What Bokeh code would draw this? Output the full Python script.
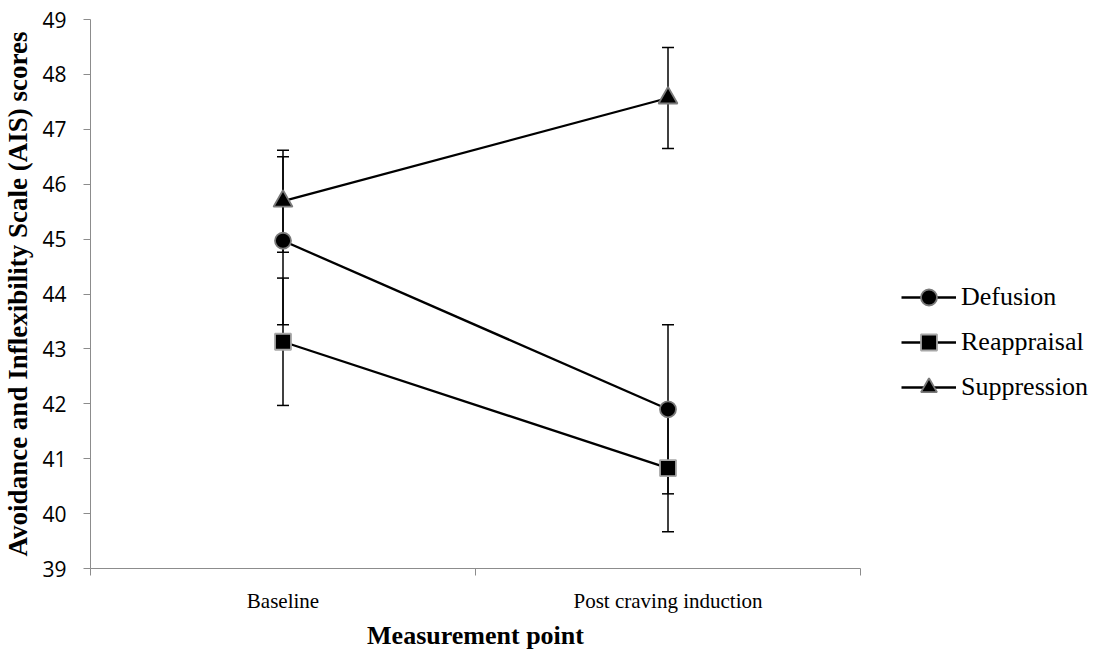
from bokeh.plotting import figure
from bokeh.models import (ColumnDataSource, Whisker, TeeHead, FixedTicker, Legend,
                          LegendItem, Range1d)
from bokeh.embed import file_html
from bokeh.resources import INLINE

# ---- data ----
categories = ["Baseline", "Post craving induction"]
series_names = ["Defusion", "Reappraisal", "Suppression"]
defusion = [44.97, 41.90]
defusion_err = [1.53, 1.54]
reappraisal = [43.13, 40.83]
reappraisal_err = [1.16, 1.16]
suppression = [45.69, 47.57]
suppression_err = [0.93, 0.92]
y_ticks = [39, 40, 41, 42, 43, 44, 45, 46, 47, 48, 49]

x_pos = [i + 0.5 for i in range(len(categories))]
boundaries = [float(i) for i in range(len(categories) + 1)]

p = figure(frame_width=770, frame_height=549, output_backend="svg", toolbar_location=None,
           x_range=Range1d(0, len(categories)), y_range=Range1d(y_ticks[0], y_ticks[-1]),
           min_border_left=84, min_border_top=19, min_border_bottom=0, min_border_right=0)
p.outline_line_color = None
p.xgrid.visible = False
p.ygrid.visible = False
p.background_fill_color = "white"
p.border_fill_color = "white"

axis_gray = "#8c8c8c"
# x axis
xa = p.xaxis[0]
xa.ticker = FixedTicker(ticks=x_pos, minor_ticks=boundaries)
xa.major_label_overrides = {x: c for x, c in zip(x_pos, categories)}
xa.major_tick_out = 0
xa.major_tick_in = 0
xa.minor_tick_out = 7
xa.minor_tick_in = 0
xa.minor_tick_line_color = axis_gray
xa.axis_line_color = axis_gray
xa.major_label_text_font = "Liberation Serif"
xa.major_label_text_font_size = "21px"
xa.major_label_text_color = "black"
xa.major_label_standoff = 13
xa.axis_label = "Measurement point"
xa.axis_label_text_font = "Liberation Serif"
xa.axis_label_text_font_style = "bold"
xa.axis_label_text_font_size = "26px"
xa.axis_label_text_color = "black"
xa.axis_label_standoff = 5

# y axis
ya = p.yaxis[0]
ya.ticker = FixedTicker(ticks=y_ticks, minor_ticks=[])
ya.major_tick_out = 7
ya.major_tick_in = 0
ya.major_tick_line_color = axis_gray
ya.axis_line_color = axis_gray
ya.major_label_text_font = "Open Sans"
ya.major_label_text_font_size = "21px"
ya.major_label_text_color = "black"
ya.major_label_standoff = 17
ya.axis_label = "Avoidance and Inflexibility Scale (AIS) scores"
ya.axis_label_text_font = "Liberation Serif"
ya.axis_label_text_font_style = "bold"
ya.axis_label_text_font_size = "27px"
ya.axis_label_text_color = "black"
ya.axis_label_standoff = 6

data = [
    ("Defusion", defusion, defusion_err, "circle", 16, "#7a7a7a"),
    ("Reappraisal", reappraisal, reappraisal_err, "square", 16, "#a8a8a8"),
    ("Suppression", suppression, suppression_err, "triangle", 19, "#7a7a7a"),
]

items = []
for name, vals, errs, marker, size, edge in data:
    src = ColumnDataSource(dict(
        x=x_pos, y=vals,
        upper=[v + e for v, e in zip(vals, errs)],
        lower=[v - e for v, e in zip(vals, errs)],
    ))
    w = Whisker(source=src, base="x", upper="upper", lower="lower", dimension="height",
                line_color="black", line_width=1.5, level="underlay",
                upper_head=TeeHead(size=12, line_color="black", line_width=1.5),
                lower_head=TeeHead(size=12, line_color="black", line_width=1.5))
    p.add_layout(w)
    items.append((name, src, marker, size, edge))

legend_items = []
line_rs = []
for name, src, marker, size, edge in items:
    lr = p.line("x", "y", source=src, line_color="black", line_width=2.3)
    line_rs.append(lr)
for (name, src, marker, size, edge), lr in zip(items, line_rs):
    sr = p.scatter("x", "y", source=src, marker=marker, size=size, fill_color="black",
                   line_color=edge, line_width=1.8)
    legend_items.append(LegendItem(label=name, renderers=[lr, sr]))

legend = Legend(items=legend_items, location=(41, 161), orientation="vertical",
                border_line_color=None, background_fill_alpha=0,
                label_text_font="Liberation Serif", label_text_font_size="26px",
                label_text_color="black",
                glyph_width=55, glyph_height=40, label_height=31, label_standoff=5,
                spacing=5, padding=0, margin=0)
p.add_layout(legend, "right")

open("out.html", "w").write(file_html(p, INLINE))
